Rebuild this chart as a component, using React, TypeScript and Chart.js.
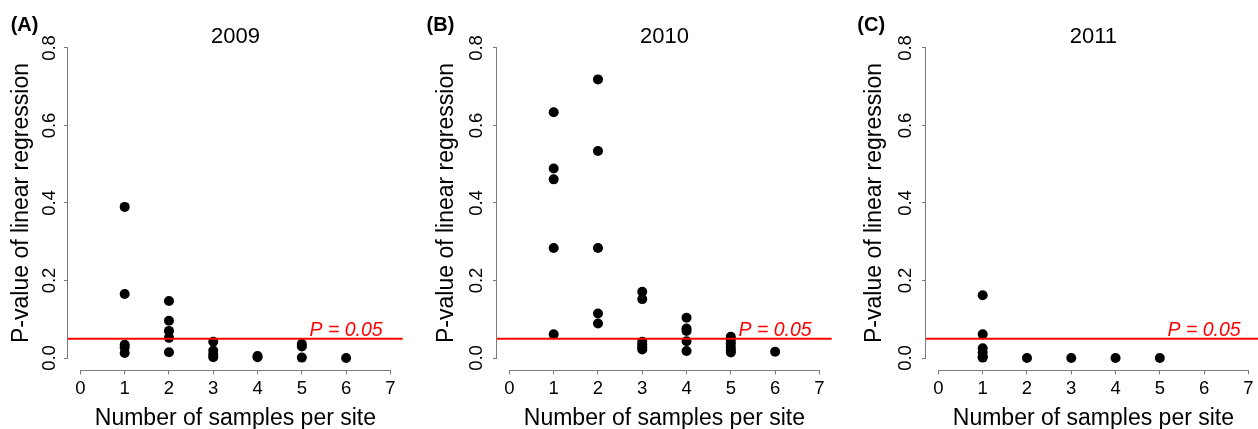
import React, { useEffect, useRef } from 'react';
import { Chart, registerables } from 'chart.js';

Chart.register(...registerables);

// ---------- data ----------
const xTickValues = [0, 1, 2, 3, 4, 5, 6, 7];
const yTickValues = [0, 0.2, 0.4, 0.6, 0.8];
const xRange = [-0.28, 7.28];
const yRange = [-0.032, 0.832];

const sampleCounts2009 = [1, 2, 3, 4, 5, 6];
const pValues2009 = [
  [0.39, 0.165, 0.034, 0.027, 0.013],
  [0.147, 0.096, 0.07, 0.052, 0.015],
  [0.042, 0.019, 0.009, 0.002],
  [0.005, 0.002],
  [0.036, 0.03, 0.001],
  [0.0],
];

const sampleCounts2010 = [1, 2, 3, 4, 5, 6];
const pValues2010 = [
  [0.634, 0.489, 0.461, 0.284, 0.061],
  [0.719, 0.534, 0.284, 0.115, 0.089],
  [0.171, 0.152, 0.042, 0.035, 0.028, 0.022],
  [0.104, 0.076, 0.07, 0.043, 0.018],
  [0.055, 0.047, 0.038, 0.028, 0.02, 0.014],
  [0.016],
];

const sampleCounts2011 = [1, 2, 3, 4, 5];
const pValues2011 = [
  [0.162, 0.061, 0.025, 0.014, 0.004, 0.001],
  [0.0],
  [0.0],
  [0.0],
  [0.0],
];

const threshold = 0.05;
const thresholdLabel = 'P = 0.05';
const thresholdLabelX = 6;
const xAxisTitle = 'Number of samples per site';
const yAxisTitle = 'P-value of linear regression';

// ---------- layout ----------
const FONT = '"Liberation Sans", Arial, Helvetica, sans-serif';
const CANVAS_W = 430;
const CANVAS_H = 429;
const AREA_LEFT = 80;
const AREA_W = 334.8;
const AREA_TOP = 35.6;
const AREA_BOTTOM = 370.4;
const AXIS_GRAY = '#7a7a7a';
const TICK_FONT = 18.5;

type Panel = {
  year: string;
  letter: string;
  counts: number[];
  values: number[][];
  axisX: number;
  letterX: number;
  yTitlePad: number;
  yTickPad: number;
};

const panels: Panel[] = [
  { year: '2009', letter: '(A)', counts: sampleCounts2009, values: pValues2009, axisX: 68, letterX: 10.7, yTitlePad: 21.9, yTickPad: 1.5 },
  { year: '2010', letter: '(B)', counts: sampleCounts2010, values: pValues2010, axisX: 496.7, letterX: 426.3, yTitlePad: 18.2, yTickPad: 3.1 },
  { year: '2011', letter: '(C)', counts: sampleCounts2011, values: pValues2011, axisX: 926, letterX: 857.3, yTitlePad: 17.4, yTickPad: 3.1 },
];

function PanelChart({ panel }: { panel: Panel }) {
  const ref = useRef<HTMLCanvasElement | null>(null);
  const canvasLeft = panel.axisX - AREA_LEFT;

  useEffect(() => {
    if (!ref.current) return;
    const points: { x: number; y: number }[] = [];
    panel.counts.forEach((n, i) => {
      panel.values[i].forEach((v) => points.push({ x: n, y: v }));
    });

    const annotate = {
      id: 'annotate' + panel.year,
      afterDraw(chart: any) {
        const { ctx, chartArea, scales } = chart;
        const xs = scales.x;
        const ys = scales.y;
        ctx.save();
        // R-style axis lines
        ctx.strokeStyle = AXIS_GRAY;
        ctx.lineWidth = 1;
        ctx.beginPath();
        const bx = Math.round(chartArea.bottom) + 0.5;
        ctx.moveTo(xs.getPixelForValue(xTickValues[0]), bx);
        ctx.lineTo(xs.getPixelForValue(xTickValues[xTickValues.length - 1]), bx);
        const lx = Math.round(chartArea.left) - 0.5;
        ctx.moveTo(lx, ys.getPixelForValue(yTickValues[0]));
        ctx.lineTo(lx, ys.getPixelForValue(yTickValues[yTickValues.length - 1]));
        ctx.stroke();

        // year title
        ctx.fillStyle = '#000';
        ctx.font = `22px ${FONT}`;
        ctx.textAlign = 'center';
        ctx.textBaseline = 'alphabetic';
        ctx.fillText(panel.year, (chartArea.left + chartArea.right) / 2, 42.7);

        // panel letter
        ctx.font = `bold 20px ${FONT}`;
        ctx.textAlign = 'left';
        ctx.fillText(panel.letter, panel.letterX - canvasLeft, 30.7);

        // threshold label
        ctx.fillStyle = '#ff0000';
        ctx.font = `italic 19.5px ${FONT}`;
        ctx.textAlign = 'center';
        ctx.fillText(thresholdLabel, xs.getPixelForValue(thresholdLabelX), ys.getPixelForValue(threshold) - 3);
        ctx.restore();
      },
    };

    const chart = new Chart(ref.current, {
      type: 'scatter',
      data: {
        datasets: [
          {
            label: 'threshold',
            data: [
              { x: xRange[0], y: threshold },
              { x: xRange[1], y: threshold },
            ],
            showLine: true,
            borderColor: '#ff0000',
            borderWidth: 2,
            pointRadius: 0,
            fill: false,
          } as any,
          {
            label: panel.year,
            data: points,
            backgroundColor: '#000',
            borderWidth: 0,
            pointRadius: 5,
            pointHoverRadius: 5,
          },
        ],
      },
      options: {
        animation: false,
        responsive: true,
        maintainAspectRatio: false,
        events: [],
        layout: {
          padding: { left: 0, top: AREA_TOP, right: CANVAS_W - AREA_LEFT - AREA_W, bottom: 0 },
        },
        plugins: {
          legend: { display: false },
          tooltip: { enabled: false },
          title: { display: false },
        },
        scales: {
          x: {
            type: 'linear',
            min: xRange[0],
            max: xRange[1],
            afterBuildTicks: (s: any) => {
              s.ticks = xTickValues.map((v) => ({ value: v }));
            },
            afterFit: (s: any) => {
              s.height = CANVAS_H - AREA_BOTTOM;
            },
            border: { display: false },
            grid: {
              display: true,
              drawOnChartArea: false,
              drawTicks: true,
              tickLength: 4,
              color: AXIS_GRAY,
              lineWidth: 1,
            },
            ticks: {
              autoSkip: false,
              maxRotation: 0,
              minRotation: 0,
              padding: 3,
              color: '#000',
              font: { family: FONT, size: TICK_FONT },
              callback: (v: any) => String(v),
            },
            title: {
              display: true,
              text: xAxisTitle,
              color: '#000',
              font: { family: FONT, size: 23, lineHeight: 1 },
              padding: { top: 0, bottom: -1 },
            },
          },
          y: {
            type: 'linear',
            min: yRange[0],
            max: yRange[1],
            afterBuildTicks: (s: any) => {
              s.ticks = yTickValues.map((v) => ({ value: v }));
            },
            afterFit: (s: any) => {
              s.width = AREA_LEFT;
            },
            border: { display: false },
            grid: {
              display: true,
              drawOnChartArea: false,
              drawTicks: true,
              tickLength: 4,
              color: AXIS_GRAY,
              lineWidth: 1,
            },
            ticks: {
              autoSkip: false,
              minRotation: 90,
              maxRotation: 90,
              crossAlign: 'center',
              padding: panel.yTickPad,
              color: '#000',
              font: { family: FONT, size: TICK_FONT },
              callback: (v: any) => Number(v).toFixed(1),
            },
            title: {
              display: true,
              text: yAxisTitle,
              color: '#000',
              font: { family: FONT, size: 23, lineHeight: 1 },
              padding: { top: panel.yTitlePad, bottom: 0 },
            },
          },
        },
      },
      plugins: [annotate],
    });
    return () => chart.destroy();
  }, [panel]);

  return (
    <div style={{ position: 'absolute', left: canvasLeft, top: 0, width: CANVAS_W, height: CANVAS_H }}>
      <canvas ref={ref} />
    </div>
  );
}

export default function App() {
  return (
    <div
      style={{
        position: 'fixed',
        left: 0,
        top: 0,
        width: 1258,
        height: 429,
        overflow: 'hidden',
        background: '#fff',
      }}
    >
      {panels.map((p) => (
        <PanelChart key={p.year} panel={p} />
      ))}
    </div>
  );
}
